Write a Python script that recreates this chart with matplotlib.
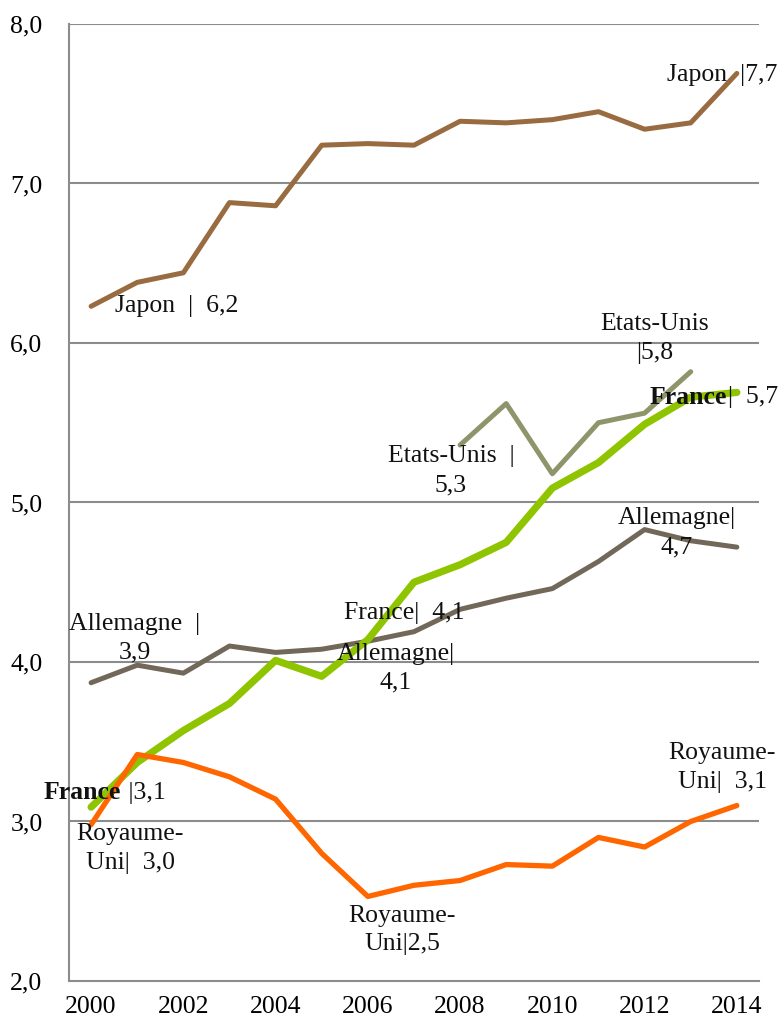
import numpy as np
from matplotlib import pyplot as plt

years = list(range(2000, 2015))
japon = [6.23, 6.38, 6.44, 6.88, 6.86, 7.24, 7.25, 7.24, 7.39, 7.38, 7.40, 7.45, 7.34, 7.38, 7.69]
usa_years = list(range(2008, 2014))
etats_unis = [5.36, 5.62, 5.18, 5.50, 5.56, 5.82]
france = [3.09, 3.37, 3.57, 3.74, 4.01, 3.91, 4.14, 4.50, 4.61, 4.75, 5.09, 5.25, 5.49, 5.66, 5.69]
allemagne = [3.87, 3.98, 3.93, 4.10, 4.06, 4.08, 4.13, 4.19, 4.33, 4.40, 4.46, 4.63, 4.83, 4.76, 4.72]
royaume_uni = [2.98, 3.42, 3.37, 3.28, 3.14, 2.80, 2.53, 2.60, 2.63, 2.73, 2.72, 2.90, 2.84, 3.00, 3.10]

y_ticks = [2, 3, 4, 5, 6, 7, 8]
x_ticks = list(range(2000, 2015, 2))

plt.rcParams['font.family'] = ['Liberation Serif', 'DejaVu Serif']
FS = 18.5

fig = plt.figure(figsize=(7.81, 10.24), dpi=100)
ax = fig.add_axes([0.0883, 0.042, 0.8835, 0.9346])

grid_c = '#8c8c8c'
for y in y_ticks[1:]:
    ax.axhline(y, color=grid_c, lw=1.5, zorder=1)

ax.plot(years, japon, color='#996b40', lw=3.6, solid_capstyle='round', zorder=3)
ax.plot(usa_years, etats_unis, color='#8f956a', lw=3.6, solid_capstyle='round', zorder=3)
ax.plot(years, allemagne, color='#716859', lw=3.6, solid_capstyle='round', zorder=3)
ax.plot(years, france, color='#8fc400', lw=5.2, solid_capstyle='round', zorder=4)
ax.plot(years, royaume_uni, color='#ff6600', lw=3.8, solid_capstyle='round', zorder=5)

ax.set_xlim(1999.52, 2014.48)
ax.set_ylim(2, 8)
ax.set_xticks(x_ticks)
ax.set_xticklabels([str(x) for x in x_ticks], fontsize=FS)
ax.set_yticks(y_ticks)
ax.set_yticklabels([('%.1f' % v).replace('.', ',') for v in y_ticks], fontsize=FS)
ax.tick_params(length=0)
ax.tick_params(axis='y', pad=19)
ax.tick_params(axis='x', pad=11)
for s in ['top', 'right']:
    ax.spines[s].set_visible(False)
for s in ['left', 'bottom']:
    ax.spines[s].set_color(grid_c)
    ax.spines[s].set_linewidth(1.5)

kw = dict(fontsize=FS, color='#111111', zorder=6, linespacing=1.4)

ax.text(2000.52, 6.23, 'Japon  |  6,2', ha='left', va='center', **kw)
ax.text(2014.87, 7.68, 'Japon  |7,7', ha='right', va='center', clip_on=False, **kw)
ax.text(2012.22, 6.03, 'Etats-Unis\n|5,8', ha='center', va='center', multialignment='center', **kw)
ax.text(2007.80, 5.20, 'Etats-Unis  |\n5,3', ha='center', va='center', multialignment='center', **kw)
ax.text(2013.78, 5.66, 'France', ha='right', va='center', fontweight='bold', **kw)
ax.text(2013.80, 5.66, '|  5,7', ha='left', va='center', clip_on=False, **kw)
ax.text(2000.64, 3.18, 'France', ha='right', va='center', fontweight='bold', clip_on=False, **kw)
ax.text(2000.66, 3.18, ' |3,1', ha='left', va='center', **kw)
ax.text(2006.80, 4.31, 'France|  4,1', ha='center', va='center', **kw)
ax.text(2006.61, 3.96, 'Allemagne|\n4,1', ha='center', va='center', multialignment='center', **kw)
ax.text(2000.95, 4.15, 'Allemagne  |\n3,9', ha='center', va='center', multialignment='center', **kw)
ax.text(2012.70, 4.81, 'Allemagne|\n4,7', ha='center', va='center', multialignment='center', **kw)
ax.text(2000.85, 2.83, 'Royaume-\nUni|  3,0', ha='center', va='center', multialignment='center', **kw)
ax.text(2006.74, 2.32, 'Royaume-\nUni|2,5', ha='center', va='center', multialignment='center', **kw)
ax.text(2013.68, 3.34, 'Royaume-\nUni|  3,1', ha='center', va='center', multialignment='center', clip_on=False, **kw)

fig.savefig('out.png', dpi=100)
